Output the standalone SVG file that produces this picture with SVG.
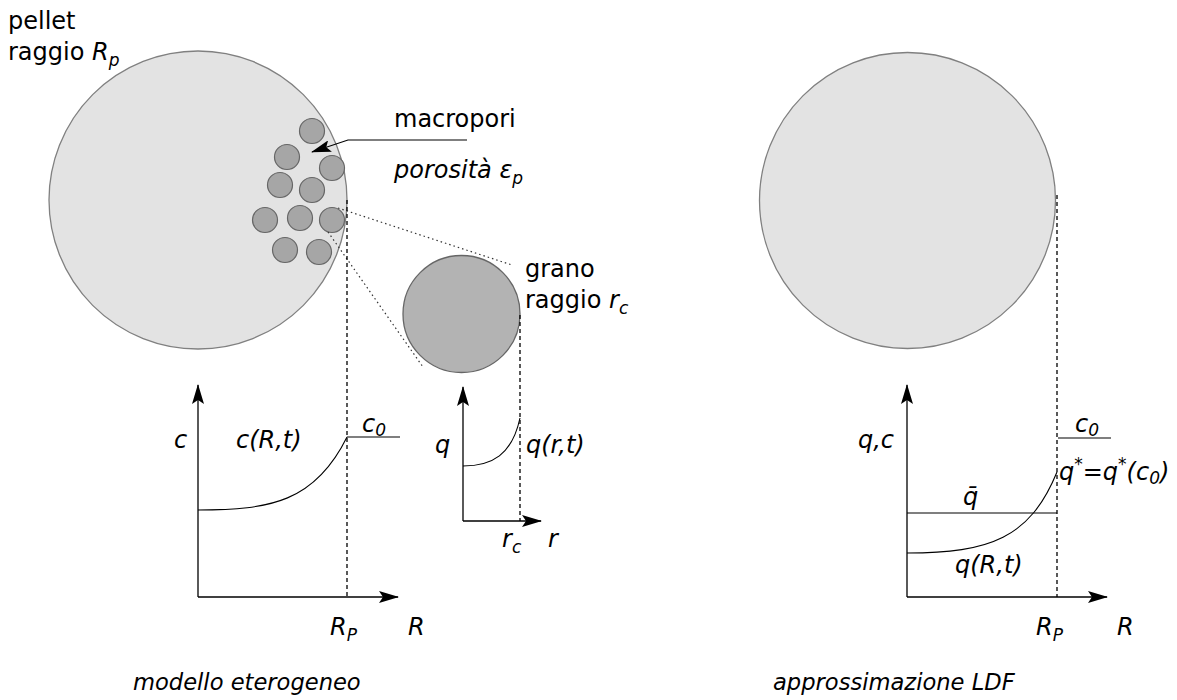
<svg xmlns="http://www.w3.org/2000/svg" width="1177" height="700" viewBox="0 0 1177 700">
<style>
text{font-family:"DejaVu Sans",sans-serif;font-size:24px;fill:#000}
.it{font-style:italic}
.cap{font-size:22.6px}
.ax{stroke:#000;stroke-width:1.3;fill:none}
.cv{stroke:#000;stroke-width:1.1;fill:none}
.dash{stroke:#000;stroke-width:1.3;stroke-dasharray:4,3;fill:none}
.dot{stroke:#333;stroke-width:1.2;stroke-dasharray:1.5,3;fill:none}
.pore{fill:#a6a6a6;stroke:#666;stroke-width:1.2}
.sub{font-size:17px}
</style>
<defs>
<marker id="ah" viewBox="0 0 20 12" refX="19" refY="6" markerWidth="20" markerHeight="12" markerUnits="userSpaceOnUse" orient="auto">
<path d="M0,0 L20,6 L0,12 L4,6 Z" fill="#000"/>
</marker>
</defs>
<rect width="1177" height="700" fill="#fff"/>

<g id="pellet">
<circle cx="198" cy="200" r="149" fill="#e3e3e3" stroke="#808080" stroke-width="1.3"/>
<circle class="pore" cx="312" cy="131" r="12.5"/>
<circle class="pore" cx="287" cy="157" r="12.5"/>
<circle class="pore" cx="332" cy="168" r="12.5"/>
<circle class="pore" cx="280" cy="185" r="12.5"/>
<circle class="pore" cx="312" cy="190" r="12.5"/>
<circle class="pore" cx="265" cy="220" r="12.5"/>
<circle class="pore" cx="300" cy="218" r="12.5"/>
<circle class="pore" cx="332" cy="220" r="12.5"/>
<circle class="pore" cx="285" cy="250" r="12.5"/>
<circle class="pore" cx="319" cy="252" r="12.5"/>
</g>
<g id="pellet-label">
<text x="8" y="29">pellet</text>
<text x="8" y="60">raggio <tspan class="it">R</tspan><tspan class="it sub" dy="6">p</tspan></text>
</g>
<g id="macropori-label">
<text x="394" y="127">macropori</text>
<text class="it" x="394" y="178">porosità ε<tspan class="sub" dy="6">p</tspan></text>
</g>

<g id="grano">
<circle cx="461.5" cy="314" r="58.5" fill="#b3b3b3" stroke="#666" stroke-width="1.3"/>
<text x="525" y="277">grano</text>
<text x="525" y="308">raggio <tspan class="it">r</tspan><tspan class="it sub" dy="6">c</tspan></text>
</g>

<g id="pellet-ldf">
<circle cx="907.5" cy="200.5" r="148" fill="#e3e3e3" stroke="#808080" stroke-width="1.3"/>
</g>

<g id="connectors">
<path class="cv" d="M467,140 L348,140 L312,152" marker-end="url(#ah)"/>
<path class="dot" d="M338,208 L512,265"/>
<path class="dot" d="M328,232 L423,367"/>
<path class="dash" d="M347,200 L347,597"/>
<path class="dash" d="M520,315 L520,521"/>
<path class="dash" d="M1057,195 L1057,597"/>
</g>

<g id="graph-c">
<path class="ax" d="M198,597 L198,385" marker-end="url(#ah)"/>
<path class="ax" d="M198,597 L398,597" marker-end="url(#ah)"/>
<path class="cv" d="M198,510 C270,510 315,502 347,437"/>
<path class="cv" d="M347,437 L400,437"/>
<text class="it" x="174" y="448">c</text>
<text class="it" x="236" y="448">c(R,t)</text>
<text class="it" x="362" y="432">c<tspan class="sub" dy="4">0</tspan></text>
<text class="it" x="330" y="635">R<tspan class="sub" dy="6">P</tspan></text>
<text class="it" x="408" y="635">R</text>
</g>

<g id="graph-q">
<path class="ax" d="M463,521 L463,387" marker-end="url(#ah)"/>
<path class="ax" d="M463,521 L541,521" marker-end="url(#ah)"/>
<path class="cv" d="M463,466 C492,466 512,455 520,418"/>
<text class="it" x="435" y="453">q</text>
<text class="it" x="526" y="453">q(r,t)</text>
<text class="it" x="502" y="547">r<tspan class="sub" dy="6">c</tspan></text>
<text class="it" x="548" y="547">r</text>
</g>

<g id="graph-ldf">
<path class="ax" d="M907,597 L907,385" marker-end="url(#ah)"/>
<path class="ax" d="M907,597 L1107,597" marker-end="url(#ah)"/>
<path class="cv" d="M1058,438 L1111,438"/>
<path class="cv" d="M907,513 L1057,513"/>
<path class="cv" d="M907,553 C990,553 1030,538 1057,472"/>
<text class="it" x="858" y="448">q,c</text>
<text class="it" x="1075" y="432">c<tspan class="sub" dy="4">0</tspan></text>
<text class="it" x="1059" y="480">q<tspan class="sub" dy="-10">*</tspan><tspan dy="10">=q</tspan><tspan class="sub" dy="-10">*</tspan><tspan dy="10">(c</tspan><tspan class="sub" dy="4">0</tspan><tspan dy="-4">)</tspan></text>
<text class="it" x="963" y="505">q̄</text>
<text class="it" x="955" y="573">q(R,t)</text>
<text class="it" x="1036" y="635">R<tspan class="sub" dy="6">P</tspan></text>
<text class="it" x="1117" y="635">R</text>
</g>

<g id="captions">
<text class="it cap" x="133" y="690">modello eterogeneo</text>
<text class="it cap" x="773" y="690">approssimazione LDF</text>
</g>
</svg>
